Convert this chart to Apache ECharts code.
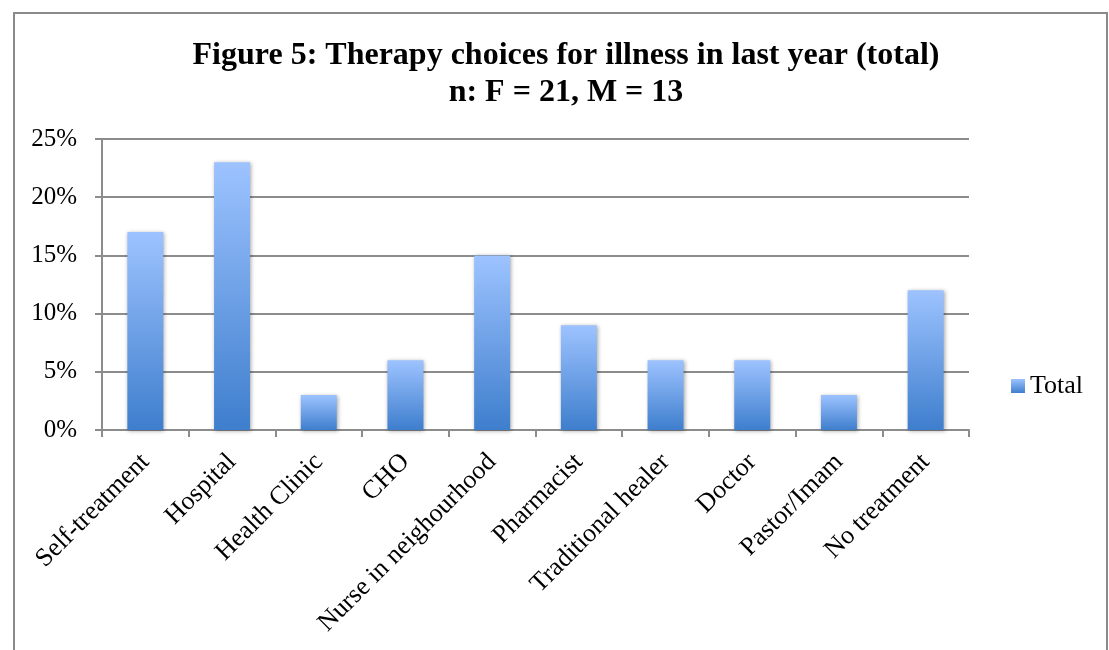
<!DOCTYPE html>
<html>
<head>
<meta charset="utf-8">
<script src="https://cdn.jsdelivr.net/npm/echarts@6/dist/echarts.min.js"></script>
<style>
html,body{margin:0;padding:0;background:#fff;overflow:hidden;}
#frame{position:absolute;left:13px;top:12px;width:1095px;height:700px;border:2px solid #8a8a8a;box-sizing:border-box;}
#chart{position:absolute;left:0;top:0;width:1109px;height:650px;}
</style>
</head>
<body>
<div id="frame"></div>
<div id="chart"></div>
<script>
const titleLines = ['Figure 5: Therapy choices for illness in last year (total)', 'n: F = 21, M = 13'];
const categories = ['Self-treatment','Hospital','Health Clinic','CHO','Nurse in neighourhood','Pharmacist','Traditional healer','Doctor','Pastor/Imam','No treatment'];
const seriesName = 'Total';
const totalValues = [17, 23, 3, 6, 15, 9, 6, 6, 3, 12];
const yTicks = [0, 5, 10, 15, 20, 25];

const serif = '"Liberation Serif","Times New Roman",serif';
const grad = new echarts.graphic.LinearGradient(0,0,0,1,[
  {offset:0,color:'#9dc3ff'},
  {offset:1,color:'#3e7ecd'}
]);
const chart = echarts.init(document.getElementById('chart'), null, {renderer:'canvas'});
chart.setOption({
  animation:false,
  backgroundColor:'transparent',
  title:{
    text: titleLines.join('\n'),
    left: 561, top: 32, textAlign:'center',
    textStyle:{fontFamily:serif,fontWeight:'bold',fontSize:32,color:'#000',lineHeight:37}
  },
  legend:{
    data:[seriesName], left:1006, top:368, itemWidth:14, itemHeight:14, itemGap:6,
    icon:'rect',
    textStyle:{fontFamily:serif,fontSize:26,color:'#000'}
  },
  grid:{left:102,right:140,top:139,bottom:220,containLabel:false},
  xAxis:{
    type:'category', data:categories,
    axisLine:{lineStyle:{color:'#8c8c8c',width:2}},
    axisTick:{show:true,length:7,lineStyle:{color:'#8c8c8c',width:2}},
    axisLabel:{rotate:45,margin:28,fontFamily:serif,fontSize:26,color:'#000',interval:0}
  },
  yAxis:{
    type:'value', min:yTicks[0], max:yTicks[yTicks.length-1], interval:yTicks[1]-yTicks[0],
    axisLine:{show:true,lineStyle:{color:'#8c8c8c',width:2}},
    axisTick:{show:true,length:7,lineStyle:{color:'#8c8c8c',width:2}},
    splitLine:{lineStyle:{color:'#8c8c8c',width:2}},
    axisLabel:{formatter:v=>v+'%',margin:25,fontFamily:serif,fontSize:25,color:'#000'}
  },
  series:[{
    name:seriesName, type:'bar', data:totalValues, barWidth:'41.5%',
    itemStyle:{color:grad,shadowColor:'rgba(0,0,0,0.35)',shadowBlur:4,shadowOffsetX:1,shadowOffsetY:1}
  }]
});
</script>
</body>
</html>
